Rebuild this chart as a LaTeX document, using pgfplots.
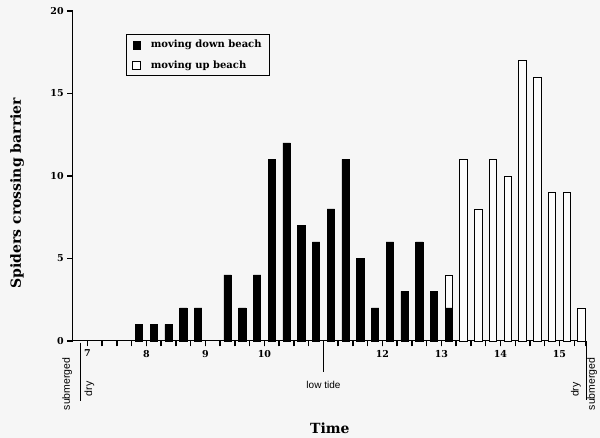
\documentclass[border=0pt]{standalone}
\usepackage{fontspec}
\setmainfont{DejaVu Serif}
\setsansfont{Liberation Sans}
\usepackage{pgfplots}
\pgfplotsset{compat=1.18}
\definecolor{bg}{RGB}{246,246,246}
\definecolor{barwhite}{RGB}{252,252,252}
\begin{document}
\begin{tikzpicture}
\useasboundingbox (-72.7pt,-97pt) rectangle (527.3pt,341pt);
\fill[bg] (-72.7pt,-97pt) rectangle (527.3pt,341pt);
\begin{axis}[
  at={(0,0)}, anchor=south west,
  scale only axis, width=513.3pt, height=330pt,
  xmin=6.75, xmax=15.45, ymin=0, ymax=20,
  axis x line=bottom, axis y line=left,
  axis line style={-, line width=1pt},
  clip=false,
  ybar stacked, bar width=7.4pt,
  xtick={7,8,9,10,12,13,14,15},
  minor xtick={7.25,7.5,...,15.25},
  extra x ticks={15.45}, extra x tick labels={},
  ytick={0,5,10,15,20},
  tick align=outside,
  major tick length=5.5pt, minor tick length=5.5pt,
  tick style={draw=black, line width=1.4pt},
  /pgf/number format/assume math mode=true,
  tick label style={font=\bfseries\fontsize{9.5}{11}\selectfont},
  xlabel={Time},
  ylabel={Spiders crossing barrier},
  label style={font=\bfseries\fontsize{14}{16}\selectfont},
  xlabel style={at={(axis description cs:0.501,-0.264)}, anchor=center},
  ylabel style={at={(axis description cs:-0.1085,0.448)}, anchor=center},
  legend style={at={(rel axis cs:0.104,0.929)}, anchor=north west,
    draw=black, line width=0.8pt, fill=bg,
    font=\bfseries\fontsize{10}{12}\selectfont,
    row sep=7pt, inner xsep=6pt, inner ysep=3.5pt,
    /tikz/every odd column/.append style={column sep=8pt}},
  legend cell align=left,
]
\addplot[fill=black, draw=black, line width=0.6pt,
  legend image code/.code={\draw[fill=black,draw=black,line width=0.6pt] (0pt,-4pt) rectangle (7.5pt,3.5pt);}]
coordinates {
(7.875,1) (8.125,1) (8.375,1) (8.625,2) (8.875,2) (9.125,0)
(9.375,4) (9.625,2) (9.875,4) (10.125,11) (10.375,12) (10.625,7)
(10.875,6) (11.125,8) (11.375,11) (11.625,5) (11.875,2) (12.125,6)
(12.375,3) (12.625,6) (12.875,3) (13.125,2) (13.375,0) (13.625,0)
(13.875,0) (14.125,0) (14.375,0) (14.625,0) (14.875,0) (15.125,0)
(15.375,0)};
\addlegendentry{moving down beach}
\addplot[fill=barwhite, draw=black, line width=0.8pt,
  legend image code/.code={\draw[fill=barwhite,draw=black,line width=0.8pt] (0pt,-4pt) rectangle (7.5pt,3.5pt);}]
coordinates {
(7.875,0) (8.125,0) (8.375,0) (8.625,0) (8.875,0) (9.125,0)
(9.375,0) (9.625,0) (9.875,0) (10.125,0) (10.375,0) (10.625,0)
(10.875,0) (11.125,0) (11.375,0) (11.625,0) (11.875,0) (12.125,0)
(12.375,0) (12.625,0) (12.875,0) (13.125,2) (13.375,11) (13.625,8)
(13.875,11) (14.125,10) (14.375,17) (14.625,16) (14.875,9) (15.125,9)
(15.375,2)};
\addlegendentry{moving up beach}
% annotations below the axis
\draw[line width=0.8pt] (axis cs:11,0) -- (axis cs:11,-1.88);
\draw[line width=0.8pt] (axis cs:6.875,-0.1) -- (axis cs:6.875,-3.62);
\draw[line width=0.8pt] (axis cs:15.45,0) -- (axis cs:15.45,-3.57);
\node[font=\sffamily\fontsize{10}{12}\selectfont] at (axis cs:11,-2.67) {low tide};
\node[rotate=90, font=\sffamily\fontsize{10.5}{12}\selectfont] at (axis cs:6.655,-2.6) {submerged};
\node[rotate=90, font=\sffamily\fontsize{10.5}{12}\selectfont] at (axis cs:7.035,-2.9) {dry};
\node[rotate=90, font=\sffamily\fontsize{10.5}{12}\selectfont] at (axis cs:15.28,-2.95) {dry};
\node[rotate=90, font=\sffamily\fontsize{10.5}{12}\selectfont] at (axis cs:15.555,-2.6) {submerged};
\end{axis}
\end{tikzpicture}
\end{document}
